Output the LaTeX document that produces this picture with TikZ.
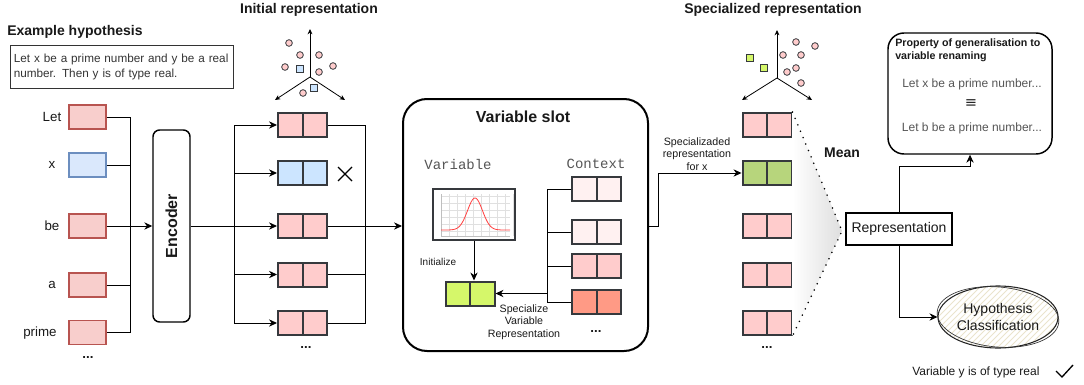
\documentclass[tikz,border=0pt]{standalone}
\usepackage{fontspec}
\setmainfont{Liberation Sans}
\setmonofont{Liberation Mono}
\newfontfamily\djv{DejaVu Sans}
\usetikzlibrary{arrows.meta,shapes.geometric,calc}
\definecolor{redfill}{HTML}{F8CECC}
\definecolor{redline}{HTML}{B85450}
\definecolor{bluefill}{HTML}{DAE8FC}
\definecolor{blueline}{HTML}{6C8EBF}
\definecolor{pinkf}{HTML}{FFCCCC}
\definecolor{bluef}{HTML}{CCE5FF}
\definecolor{dkline}{HTML}{36393D}
\definecolor{limef}{HTML}{D5F76A}
\definecolor{greenf}{HTML}{B7D57C}
\definecolor{ctxa}{HTML}{FFF1F1}
\definecolor{ctxc}{HTML}{FFCCCC}
\definecolor{ctxd}{HTML}{FF9A85}
\definecolor{txtgray}{HTML}{333333}
\definecolor{ltgray}{HTML}{555555}
\definecolor{hatch}{HTML}{EAE4CC}
\begin{document}
\begin{tikzpicture}[x=0.75pt,y=-0.75pt,
  every node/.style={inner sep=0pt, text=black!90},
  tok/.style={draw=redline, fill=redfill, line width=1.1pt, minimum width=27.75pt, minimum height=18pt},
  btok/.style={tok, draw=blueline, fill=bluefill},
  dbl/.style={draw=dkline, line width=1.5pt, minimum width=36.75pt, minimum height=18pt,
    path picture={\draw[dkline,line width=1.5pt] (path picture bounding box.north) -- (path picture bounding box.south);}},
  conn/.style={line width=0.75pt},
  arr/.style={conn,-{Stealth[length=6pt,width=5.5pt]}},
  sarr/.style={line width=0.6pt,-{Stealth[length=4pt,width=3.6pt]}},
  lbl/.style={font=\fontsize{10}{12}\selectfont},
  ttl/.style={font=\bfseries\fontsize{10.5}{12}\selectfont},
  small/.style={font=\fontsize{8}{9.4}\selectfont, align=center},
  dots/.style={font=\bfseries\fontsize{10}{12}\selectfont},
  cpt/.style={circle, draw=dkline, fill=pinkf, line width=0.6pt, minimum size=5pt},
  bpt/.style={rectangle, draw=dkline, fill=bluef, line width=0.6pt, minimum size=5pt},
  gpt/.style={rectangle, draw=dkline, fill=limef, line width=0.6pt, minimum size=5pt}
]
\useasboundingbox (0,0) rectangle (1084,385);

% ---------- left: example hypothesis ----------
\node[ttl, anchor=west] (exT) at (7,32) {Example hypothesis};
\node[draw=black!80, line width=0.75pt, anchor=north west, text width=162pt, minimum height=32.25pt,
      inner xsep=2.5pt, align=left, font=\fontsize{8.8}{11.25}\selectfont, text=txtgray] (exB) at (10,45)
  {Let x be a prime number and y be a real\\number. Then y is of type real.};

\node[tok] (tLet) at (87.5,117) {};
\node[btok] (tx) at (87.5,165) {};
\node[tok] (tbe) at (87.5,226) {};
\node[tok] (ta) at (87.5,285) {};
\node[tok] (tprime) at (87.5,332.5) {};
\node[lbl] (lLet) at (52,117) {Let};
\node[lbl] (lx) at (52,165) {x};
\node[lbl] (lbe) at (52,226) {be};
\node[lbl] (la) at (52,285) {a};
\node[lbl] (lprime) at (40,333) {prime};
\node[dots] (tdots) at (88,358) {...};

\coordinate (bus1) at (130,0);
\node[draw, line width=1.1pt, rounded corners=5pt, minimum width=27.75pt, minimum height=144pt,
      label={[rotate=90,font=\bfseries\fontsize{12}{14}\selectfont]center:Encoder}] (enc) at (171.5,226) {};
\draw[conn] (tLet.east) -- (tLet.east -| bus1) -- (tprime.east -| bus1) -- (tprime.east);
\draw[conn] (tx.east) -- (tx.east -| bus1);
\draw[conn] (ta.east) -- (ta.east -| bus1);
\draw[arr] (tbe.east) -- (enc.west);

% ---------- initial representation ----------
\node[ttl] (iniT) at (309,10) {Initial representation};
\node[dbl, fill=pinkf] (i1) at (302.5,125) {};
\node[dbl, fill=bluef] (i2) at (302.5,173) {};
\node[dbl, fill=pinkf] (i3) at (302.5,226) {};
\node[dbl, fill=pinkf] (i4) at (302.5,274.5) {};
\node[dbl, fill=pinkf] (i5) at (302.5,323) {};
\node[dots] (idots) at (306,348) {...};
\draw[line width=1pt] (338,167) -- (352,181) (338,181) -- (352,167);

\coordinate (bus2) at (234,0);
\coordinate (bus3) at (365,0);
\draw[arr] (enc.east) -- (i3.west);
\draw[conn] (i1.west -| bus2) -- (i5.west -| bus2);
\foreach \n in {i1,i2,i4,i5} \draw[arr] (\n.west -| bus2) -- (\n.west);
\draw[conn] (i1.east) -- (i1.east -| bus3) -- (i5.east -| bus3) -- (i5.east);
\draw[conn] (i4.east) -- (i4.east -| bus3);

% axes (initial)
\coordinate (o1) at (310,77);
\draw[sarr] (o1) -- (310,29);
\draw[sarr] (o1) -- (275,100);
\draw[sarr] (o1) -- (345,100);
\foreach \p in {(289,43),(300,55),(319,55),(285,67),(319,72),(333,66),(303,93)} \node[cpt] at \p {};
\node[bpt] at (300,69) {};
\node[bpt] at (314,88) {};

% ---------- variable slot ----------
\node[draw, rounded corners=18pt, line width=1.5pt, minimum width=183.75pt, minimum height=189pt] (slot) at (525.5,225) {};
\node[font=\bfseries\fontsize{12}{14}\selectfont] (slotT) at (523,117) {Variable slot};
\node[font=\ttfamily\fontsize{10.5}{12}\selectfont, text=ltgray] (varT) at (458,164) {Variable};
\node[font=\ttfamily\fontsize{10.5}{12}\selectfont, text=ltgray] (ctxT) at (596,164) {Context};
\draw[arr] (i3.east) -- (i3.east -| slot.west);

% chart
\node[draw=dkline, fill=white, line width=1.1pt, minimum width=61.5pt, minimum height=38.25pt] (chart) at (474,214.5) {};
\foreach \gx in {441,449,...,513} \draw[black!12, line width=0.3pt] (\gx,194) -- (\gx,236);
\foreach \gy in {196,203,...,236} \draw[black!12, line width=0.3pt] (441,\gy) -- (510,\gy);
\draw[black!25, line width=0.3pt] (441,194) -- (441,236) -- (510,236);
\draw[red!75, line width=0.6pt, domain=441:510, samples=70] plot (\x, {230 - 32*exp(-((\x-475)^2)/112)});

\node[dbl, fill=limef] (green) at (470,293.5) {};
\draw[arr] (chart.south) -- (chart.south |- green.north);
\node[font=\fontsize{7.5}{9}\selectfont] (initL) at (438,262) {Initialize};

\node[dbl, fill=ctxa] (c1) at (596.5,189) {};
\node[dbl, fill=ctxa] (c2) at (596.5,232) {};
\node[dbl, fill=ctxc] (c3) at (596.5,266) {};
\node[dbl, fill=ctxd] (c4) at (596.5,302) {};
\coordinate (cbus) at (547,0);
\draw[conn] (c1.west) -- (c1.west -| cbus) -- (c4.west -| cbus) -- (c4.west);
\draw[conn] (c2.west) -- (c2.west -| cbus);
\draw[conn] (c3.west) -- (c3.west -| cbus);
\draw[arr] (green.east -| cbus) -- (green.east);
\node[small] (specL) at (524,322) {Specialize\\Variable\\Representation};
\node[dots] (cdots) at (596,332) {...};

% ---------- specialized representation ----------
\node[ttl] (spT) at (773,10) {Specialized representation};
\node[dbl, fill=pinkf] (s1) at (767,125) {};
\node[dbl, fill=greenf] (s2) at (767,173) {};
\node[dbl, fill=pinkf] (s3) at (767,226) {};
\node[dbl, fill=pinkf] (s4) at (767,274.5) {};
\node[dbl, fill=pinkf] (s5) at (767,323) {};
\node[dots] (sdots) at (767,348) {...};
\draw[arr] (i3.east -| slot.east) -- ++(9,0) |- (s2.west);
\node[small] (sxL) at (697,154) {Specializaded\\representation\\for x};

% axes (specialized)
\coordinate (o2) at (777,78);
\draw[sarr] (o2) -- (777,30);
\draw[sarr] (o2) -- (742,100);
\draw[sarr] (o2) -- (812,100);
\foreach \p in {(796,42),(815,46),(783,55),(801,55),(796,68),(787,72),(801,83)} \node[cpt] at \p {};
\node[gpt] at (750,58) {};
\node[gpt] at (764,68) {};

% mean
\coordinate (apex) at (842,231);
\shade[left color=white, right color=black!13] (s1.north east) -- (apex) -- (s5.south east) -- cycle;
\draw[line width=1.3pt, line cap=round, dash pattern=on 0pt off 5.2pt] (s1.north east) -- (apex) -- (s5.south east);
\node[ttl] (meanT) at (842,153) {Mean};

% ---------- right ----------
\node[draw, line width=1.1pt, fill=white, minimum width=79.5pt, minimum height=24pt, font=\fontsize{10.5}{12}\selectfont] (rep) at (899,229) {Representation};

\node[draw, line width=1.1pt, rounded corners=12pt, minimum width=123pt, minimum height=90.75pt] (prop) at (970,93.5) {};
\node[anchor=north west, align=left, font=\bfseries\fontsize{8}{9.75}\selectfont] (propT) at (895,39) {Property of generalisation to\\variable renaming};
\node[font=\fontsize{9}{11}\selectfont, text=ltgray] (pl1) at (972,84) {Let x be a prime number...};
\node[font=\djv\fontsize{11}{12}\selectfont, text=black!85] (peq) at (971,104) {≡};
\node[font=\fontsize{9}{11}\selectfont, text=ltgray] (pl2) at (972,128) {Let b be a prime number...};

% hypothesis classification (sketchy ellipse with light hatching)
\begin{scope}
  \clip (998,317) ellipse [x radius=60, y radius=31];
  \fill[white] (936,284) rectangle (1060,350);
  \foreach \k in {-60,-54,...,66} \draw[hatch, line width=0.6pt] (998+\k-35,352) -- (998+\k+35,282);
\end{scope}
\node[ellipse, draw=black!85, line width=0.8pt,
      minimum width=90pt, minimum height=46.5pt, align=center, font=\fontsize{10.5}{12.5}\selectfont] (hyp) at (998,317) {Hypothesis\\Classification};
\draw[black!80, line width=0.5pt, rotate around={-5:(hyp.center)}] (hyp.center) ellipse [x radius=61, y radius=30];

\draw[arr] (rep.north) -- ++(0,-46) -| (prop.south);
\draw[arr] (rep.south) |- (hyp.west);

\node[anchor=west, font=\fontsize{9}{11}\selectfont] (res) at (912,372) {Variable y is of type real};
\draw[line width=1pt] (1056,371) -- (1062,377) -- (1073,365);
\end{tikzpicture}
\end{document}
